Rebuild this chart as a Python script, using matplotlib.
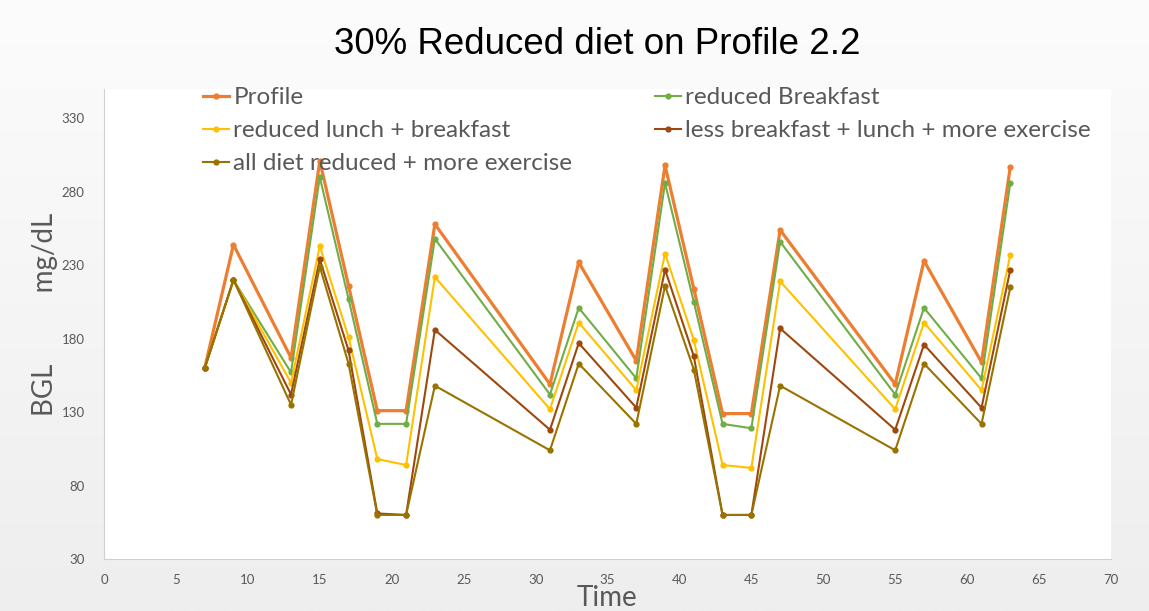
import matplotlib

matplotlib.use("Agg")
import matplotlib.pyplot as plt
import numpy as np

# time points (hours)
time = [7, 9, 13, 15, 17, 19, 21, 23, 31, 33, 37, 39, 41, 43, 45, 47, 55, 57, 61, 63]

profile = [160, 244, 167, 301, 216, 131, 131, 258, 149, 232, 165, 298, 214, 129, 129, 254, 149, 233, 164, 297]
reduced_breakfast = [160, 220, 157, 290, 207, 122, 122, 248, 142, 201, 153, 286, 205, 122, 119, 246, 142, 201, 153, 286]
reduced_lunch_breakfast = [160, 220, 150, 243, 181, 98, 94, 222, 132, 191, 145, 238, 179, 94, 92, 219, 132, 191, 145, 237]
less_bl_exercise = [160, 220, 142, 234, 172, 61, 60, 186, 118, 177, 133, 227, 168, 60, 60, 187, 118, 176, 133, 227]
all_diet_exercise = [160, 220, 135, 229, 163, 60, 60, 148, 104, 163, 122, 216, 159, 60, 60, 148, 104, 163, 122, 215]

series = [
    ("Profile", profile, "#ED7D31", 2.3),
    ("reduced Breakfast", reduced_breakfast, "#70AD47", 1.5),
    ("reduced lunch + breakfast", reduced_lunch_breakfast, "#FFC000", 1.5),
    ("less breakfast + lunch + more exercise", less_bl_exercise, "#9E480E", 1.5),
    ("all diet reduced + more exercise", all_diet_exercise, "#997300", 1.5),
]

W, H = 1149, 611
fig = plt.figure(figsize=(W / 100, H / 100), dpi=100)

# soft grey background, lighter at the top
bg = fig.add_axes([0, 0, 1, 1], zorder=-10)
grad = np.linspace(0, 1, 256).reshape(-1, 1)
bg.imshow(grad, aspect="auto", cmap=matplotlib.colors.LinearSegmentedColormap.from_list(
    "bg", ["#fcfcfc", "#eeeeee"]), extent=[0, 1, 0, 1])
bg.axis("off")

ax = fig.add_axes([104 / W, 1 - 559 / H, (1111 - 104) / W, (559 - 89) / H])
ax.set_facecolor("white")

handles = []
for label, values, color, lw in series:
    (h,) = ax.plot(time, values, color=color, lw=lw, marker="o", ms=4.5,
                   markeredgewidth=0, label=label)
    handles.append(h)

ax.set_xlim(0, 70)
ax.set_ylim(30, 350)
ax.set_xticks(range(0, 71, 5))
ax.set_yticks(range(30, 331, 50))
ax.tick_params(length=0, labelsize=9.5, labelcolor="#595959")
ax.tick_params(axis="x", pad=11)
ax.tick_params(axis="y", pad=14)
for lab in ax.get_xticklabels() + ax.get_yticklabels():
    lab.set_family("Lato")

for side in ("top", "right"):
    ax.spines[side].set_visible(False)
ax.spines["left"].set_color("#d0d0d0")
ax.spines["bottom"].set_color("#d0d0d0")

# legend filled row by row, like the original
order = [0, 2, 4, 1, 3]
leg = ax.legend([handles[i] for i in order], [series[i][0] for i in order],
                ncol=2, loc="upper left", bbox_to_anchor=(203 / W, 1 - 87 / H),
                bbox_transform=fig.transFigure, frameon=False,
                prop={"family": "Lato", "size": 17.5}, handlelength=1.05,
                handletextpad=0.2, labelspacing=0.5, columnspacing=3.4,
                borderpad=0, borderaxespad=0)
for t in leg.get_texts():
    t.set_color("#595959")

fig.text(597 / W, 1 - 45 / H, "30% Reduced diet on Profile 2.2", ha="center",
         va="center", fontsize=26.5, family="Liberation Sans", color="black")
fig.text(45 / W, 1 - 314 / H, "BGL" + " " * 10 + "mg/dL", rotation=90, ha="center",
         va="center", fontsize=20, family="Lato", color="#595959")
fig.text(607 / W, 1 - 598 / H, "Time", ha="center", va="center",
         fontsize=20, family="Lato", color="#595959")

fig.savefig("out.png", dpi=100)
